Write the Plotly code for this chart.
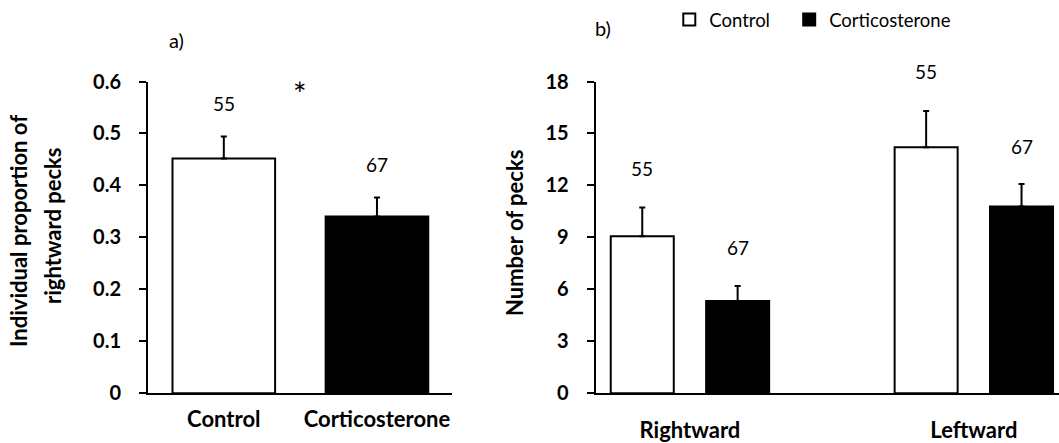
import plotly.graph_objects as go

# Panel a) individual proportion of rightward pecks
groups_a = ["Control", "Corticosterone"]
prop_mean = [0.452, 0.340]
prop_se = [0.042, 0.037]

# Panel b) number of pecks by direction
directions = ["Rightward", "Leftward"]
pecks_control = [9.07, 14.2]
pecks_control_se = [1.66, 2.1]
pecks_cort = [5.33, 10.78]
pecks_cort_se = [0.87, 1.3]

# sample sizes printed above the bars
n_control = 55
n_cort = 67

FONT = "Lato"
BLACK = "#000000"
NBSP = "\u00a0"

fig = go.Figure()

fig.add_trace(go.Bar(
    x=groups_a, y=prop_mean, width=0.67,
    marker=dict(color=["#ffffff", BLACK], line=dict(color=BLACK, width=2)),
    error_y=dict(type="data", symmetric=False, array=prop_se,
                 arrayminus=[0, 0], color=BLACK, thickness=2, width=3),
    showlegend=False, xaxis="x", yaxis="y",
))

bw = 0.222
off = 0.168
fig.add_trace(go.Bar(
    name="Control" + NBSP * 3, x=directions, y=pecks_control, width=bw,
    offset=-off - bw / 2,
    marker=dict(color="#ffffff", line=dict(color=BLACK, width=2)),
    error_y=dict(type="data", symmetric=False, array=pecks_control_se,
                 arrayminus=[0, 0], color=BLACK, thickness=2, width=3),
    xaxis="x2", yaxis="y2",
))
fig.add_trace(go.Bar(
    name="Corticosterone", x=directions, y=pecks_cort, width=bw, offset=off - bw / 2,
    marker=dict(color=BLACK, line=dict(color=BLACK, width=2)),
    error_y=dict(type="data", symmetric=False, array=pecks_cort_se,
                 arrayminus=[0, 0], color=BLACK, thickness=2, width=3),
    xaxis="x2", yaxis="y2",
))

num_font = dict(size=19, color=BLACK, family=FONT)
ann = []
# n labels, panel a
for i, (m, s, n) in enumerate(zip(prop_mean, prop_se, [n_control, n_cort])):
    ann.append(dict(x=i, y=m + s, xref="x", yref="y", text=str(n), showarrow=False,
                    yanchor="middle", yshift=33, font=num_font))
# n labels, panel b
for i in range(len(directions)):
    ann.append(dict(x=i - off, y=pecks_control[i] + pecks_control_se[i], xref="x2", yref="y2",
                    text=str(n_control), showarrow=False, yanchor="middle", yshift=39,
                    font=num_font))
    ann.append(dict(x=i + off, y=pecks_cort[i] + pecks_cort_se[i], xref="x2", yref="y2",
                    text=str(n_cort), showarrow=False, yanchor="middle", yshift=38,
                    font=num_font))

# significance star and panel letters
ann.append(dict(x=0.5, y=0.6, xref="x", yref="y", text="*", showarrow=False,
                yanchor="middle", yshift=-12,
                font=dict(size=32, color=BLACK, family=FONT)))
ann.append(dict(x=176 / 1059, y=1 - 40 / 443, xref="paper", yref="paper", text="a)",
                xanchor="center", yanchor="middle", showarrow=False,
                font=dict(size=20, color=BLACK, family=FONT)))
ann.append(dict(x=603 / 1059, y=1 - 28 / 443, xref="paper", yref="paper", text="b)",
                xanchor="center", yanchor="middle", showarrow=False,
                font=dict(size=20, color=BLACK, family=FONT)))

# y-axis titles (panel a title on two lines)
title_font = dict(size=22, color=BLACK, family=FONT, weight="bold")
ann.append(dict(x=18 / 1059, y=1 - 231 / 443, xref="paper", yref="paper",
                text="Individual proportion of", textangle=-90,
                xanchor="center", yanchor="middle", showarrow=False, font=title_font))
ann.append(dict(x=53 / 1059, y=1 - 226 / 443, xref="paper", yref="paper",
                text="rightward pecks", textangle=-90,
                xanchor="center", yanchor="middle", showarrow=False, font=title_font))
ann.append(dict(x=515 / 1059, y=1 - 233 / 443, xref="paper", yref="paper",
                text="Number of pecks", textangle=-90,
                xanchor="center", yanchor="middle", showarrow=False, font=title_font))

axis_common = dict(showline=True, linecolor=BLACK, linewidth=2, showgrid=False,
                   zeroline=False, automargin=False)
ydom = [1 - 393.3 / 443, 1 - 81.5 / 443]
tick_font = dict(size=20, color=BLACK, family=FONT, weight="bold")
cat_font = dict(size=22, color=BLACK, family=FONT, weight="bold")

fig.update_layout(
    width=1059, height=443,
    margin=dict(l=0, r=0, t=0, b=0, autoexpand=False),
    paper_bgcolor="white", plot_bgcolor="white",
    barmode="group",
    font=dict(family=FONT, color=BLACK),
    annotations=ann,
    xaxis=dict(domain=[148 / 1059, 452 / 1059], range=[-0.495, 1.49], type="category",
               ticks="", ticklabelstandoff=5, tickfont=cat_font, **axis_common),
    yaxis=dict(domain=ydom, range=[0, 0.6], dtick=0.1, ticks="outside", ticklen=7,
               tickwidth=2, tickcolor=BLACK, ticklabelstandoff=14,
               tickfont=tick_font, anchor="x", **axis_common),
    xaxis2=dict(domain=[595.7 / 1059, 1.0], range=[-0.332, 1.3], type="category",
                ticks="", ticklabelstandoff=16, tickfont=cat_font,
                anchor="y2", **axis_common),
    yaxis2=dict(domain=ydom, range=[0, 18], dtick=3, ticks="outside", ticklen=7,
                tickwidth=2, tickcolor=BLACK, ticklabelstandoff=14,
                tickfont=tick_font, anchor="x2", **axis_common),
    legend=dict(orientation="h", x=0.632, y=1 - 20 / 443, xanchor="left",
                yanchor="middle", font=dict(size=18.5, color=BLACK, family=FONT),
                itemwidth=30, bgcolor="rgba(0,0,0,0)"),
)

fig.write_html("out.html")
